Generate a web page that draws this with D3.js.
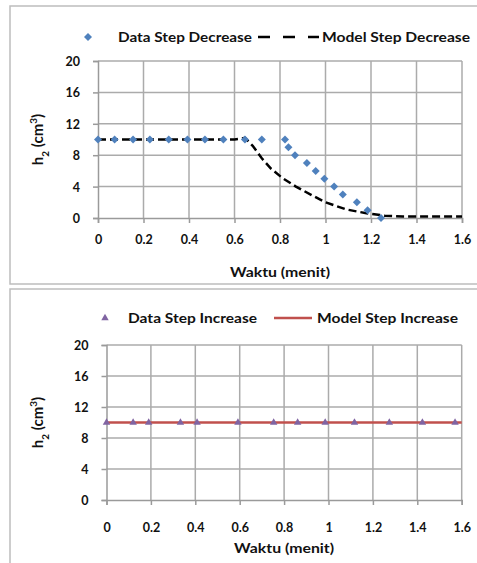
<!DOCTYPE html>
<html>
<head>
<meta charset="utf-8">
<script src="https://cdn.jsdelivr.net/npm/d3@7"></script>
<style>
  body { margin: 0; background: #fff; }
  svg { display: block; font-family: Lato, "Open Sans", sans-serif; }
</style>
</head>
<body>
<svg id="chart"></svg>
<script>
// Step decrease: measured data and model
const decTime = [0, 0.073, 0.154, 0.228, 0.311, 0.393, 0.47, 0.551, 0.646, 0.72, 0.822, 0.837, 0.866, 0.918, 0.957, 0.995, 1.038, 1.076, 1.138, 1.185, 1.244];
const decH = [10, 10, 10, 10, 10, 10, 10, 10, 10, 10, 10, 9, 8, 7, 6, 5, 4, 3, 2, 1, 0];
const decModelTime = [0, 0.2, 0.4, 0.6, 0.646, 0.68, 0.72, 0.76, 0.81, 0.87, 0.94, 1.0, 1.09, 1.18, 1.26, 1.34, 1.6];
const decModelH = [10, 10, 10, 10, 10.2, 9.2, 7.6, 6.3, 5.1, 4.0, 2.9, 2.0, 1.1, 0.6, 0.3, 0.2, 0.2];

// Step increase: measured data and model
const incTime = [0, 0.12, 0.19, 0.333, 0.408, 0.592, 0.753, 0.861, 0.985, 1.117, 1.274, 1.423, 1.57];
const incH = [10, 10, 10, 10, 10, 10, 10, 10, 10, 10, 10, 10, 10];
const incModelTime = [0, 1.6];
const incModelH = [10, 10];

// axis ticks
const xTicks = [0, 0.2, 0.4, 0.6, 0.8, 1, 1.2, 1.4, 1.6];
const yTicks = [0, 4, 8, 12, 16, 20];

const svg = d3.select("#chart")
  .attr("width", 477)
  .attr("height", 563);

const panels = [
  {
    box: { x: 10, y: 6, h: 278 },
    plot: { left: 98, right: 462, top: 61, bottom: 218 },
    xPad: 12, titleY: 277, legendY: 37,
    dataT: decTime, dataH: decH, modelT: decModelTime, modelH: decModelH,
    marker: "diamond", markerColor: "#4f81bd",
    lineColor: "#000", lineWidth: 2.5, dash: "8,4", legendDash: "12,13",
    legend: { marker: 88, text1: 118, len1: 134, lineFrom: 258, lineTo: 319, text2: 322, len2: 148 },
    names: ["Data Step Decrease", "Model Step Decrease"]
  },
  {
    box: { x: 10, y: 289, h: 300 },
    plot: { left: 106.5, right: 461.7, top: 345, bottom: 500 },
    xPad: 18, titleY: 553, legendY: 318,
    dataT: incTime, dataH: incH, modelT: incModelTime, modelH: incModelH,
    marker: "triangle", markerColor: "#8064a2",
    lineColor: "#c0504d", lineWidth: 2.5, dash: null, legendDash: null,
    legend: { marker: 105, text1: 128, len1: 129, lineFrom: 274, lineTo: 312, text2: 317, len2: 141 },
    names: ["Data Step Increase", "Model Step Increase"]
  }
];

panels.forEach(p => drawPanel(p));

function drawPanel(p) {
  const g = svg.append("g");

  // outer frame of the chart
  g.append("rect")
    .attr("x", p.box.x)
    .attr("y", p.box.y)
    .attr("width", 500)
    .attr("height", p.box.h)
    .attr("fill", "#fff")
    .attr("stroke", "#bdbdbd")
    .attr("stroke-width", 1.5);

  const x = d3.scaleLinear().domain([0, 1.6]).range([p.plot.left, p.plot.right]);
  const y = d3.scaleLinear().domain([0, 20]).range([p.plot.bottom, p.plot.top]);

  // gridlines
  g.append("g")
    .selectAll("line")
    .data(xTicks.slice(1))
    .join("line")
    .attr("x1", d => x(d)).attr("x2", d => x(d))
    .attr("y1", y(0)).attr("y2", y(20))
    .attr("stroke", "#ababab")
    .attr("stroke-width", 1.5);

  g.append("g")
    .selectAll("line")
    .data(yTicks.slice(1))
    .join("line")
    .attr("x1", x(0)).attr("x2", x(1.6))
    .attr("y1", d => y(d)).attr("y2", d => y(d))
    .attr("stroke", "#ababab")
    .attr("stroke-width", 1.5);

  // axes
  const xAxis = g.append("g")
    .attr("transform", `translate(0,${y(0)})`)
    .call(d3.axisBottom(x).tickValues(xTicks).tickFormat(d => String(d)).tickSize(5).tickPadding(p.xPad));

  const yAxis = g.append("g")
    .attr("transform", `translate(${x(0)},0)`)
    .call(d3.axisLeft(y).tickValues(yTicks).tickSize(5).tickPadding(13));

  [xAxis, yAxis].forEach(a => {
    a.select(".domain").attr("stroke", "#9a9a9a").attr("stroke-width", 1.5);
    a.selectAll(".tick line").attr("stroke", "#9a9a9a").attr("stroke-width", 1.5);
    a.selectAll(".tick text")
      .attr("fill", "#111")
      .style("font-family", "Lato, 'Open Sans', sans-serif")
      .style("font-size", "12.5px")
      .style("font-weight", "bold");
  });
  yAxis.selectAll(".tick text").attr("dy", "0.36em");

  // axis titles
  g.append("text")
    .attr("x", (p.plot.left + p.plot.right) / 2 - 50)
    .attr("y", p.titleY)
    .attr("textLength", 100)
    .attr("lengthAdjust", "spacingAndGlyphs")
    .style("font-size", "13.5px")
    .style("font-weight", "bold")
    .attr("fill", "#111")
    .text("Waktu (menit)");

  const yl = g.append("text")
    .attr("transform", `translate(43,${(p.plot.top + p.plot.bottom) / 2}) rotate(-90)`)
    .attr("text-anchor", "middle")
    .style("font-size", "15px")
    .style("font-weight", "bold")
    .attr("fill", "#111");
  yl.append("tspan").text("h");
  yl.append("tspan").attr("baseline-shift", "sub").style("font-size", "10px").text("2");
  yl.append("tspan").text(" (cm");
  yl.append("tspan").attr("baseline-shift", "super").style("font-size", "10px").text("3");
  yl.append("tspan").text(")");

  // model line
  const line = d3.line()
    .x((d, i) => x(p.modelT[i]))
    .y(d => y(d));

  g.append("path")
    .datum(p.modelH)
    .attr("d", line)
    .attr("fill", "none")
    .attr("stroke", p.lineColor)
    .attr("stroke-width", p.lineWidth)
    .attr("stroke-dasharray", p.dash);

  // data markers
  const sym = p.marker === "diamond"
    ? d3.symbol(d3.symbolSquare, 32)
    : d3.symbol(d3.symbolTriangle, 24);
  const rot = p.marker === "diamond" ? " rotate(45)" : "";

  g.append("g")
    .selectAll("path")
    .data(p.dataH)
    .join("path")
    .attr("d", sym)
    .attr("transform", (d, i) => `translate(${x(p.dataT[i])},${y(d)})${rot}`)
    .attr("fill", p.markerColor);

  // legend
  const lg = g.append("g");
  lg.append("path")
    .attr("d", sym)
    .attr("transform", `translate(${p.legend.marker},${p.legendY})${rot}`)
    .attr("fill", p.markerColor);
  lg.append("text")
    .attr("x", p.legend.text1)
    .attr("y", p.legendY + 5)
    .attr("textLength", p.legend.len1)
    .attr("lengthAdjust", "spacingAndGlyphs")
    .style("font-size", "13.5px")
    .style("font-weight", "bold")
    .attr("fill", "#111")
    .text(p.names[0]);
  lg.append("line")
    .attr("x1", p.legend.lineFrom).attr("x2", p.legend.lineTo)
    .attr("y1", p.legendY).attr("y2", p.legendY)
    .attr("stroke", p.lineColor)
    .attr("stroke-width", p.lineWidth)
    .attr("stroke-dasharray", p.legendDash);
  lg.append("text")
    .attr("x", p.legend.text2)
    .attr("y", p.legendY + 5)
    .attr("textLength", p.legend.len2)
    .attr("lengthAdjust", "spacingAndGlyphs")
    .style("font-size", "13.5px")
    .style("font-weight", "bold")
    .attr("fill", "#111")
    .text(p.names[1]);
}
</script>
</body>
</html>
